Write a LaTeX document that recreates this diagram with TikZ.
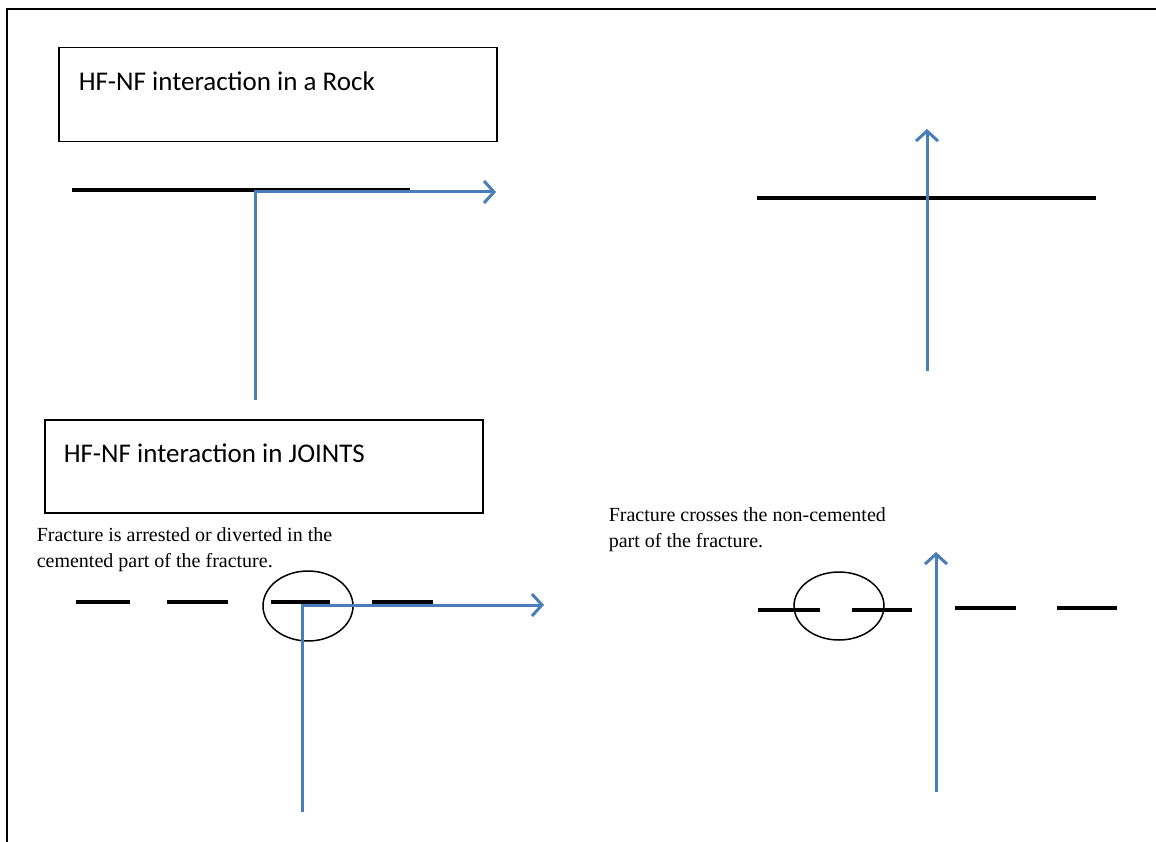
\documentclass[tikz,border=0pt]{standalone}
\usepackage{fontspec}
\setmainfont{Liberation Serif}
\newfontfamily\calibrifont{Carlito}
\usetikzlibrary{arrows.meta, positioning, shapes.geometric}
\definecolor{hfblue}{RGB}{74,126,187}

\begin{document}
\begin{tikzpicture}[x=1pt, y=-1pt, line width=1.5pt,
    titlebox/.style={draw, line width=1.5pt, anchor=north west, minimum width=438pt, minimum height=94pt, inner sep=0pt},
    titletext/.style={anchor=base west, inner sep=0pt, font=\calibrifont\fontsize{27}{32}\selectfont},
    caption/.style={anchor=base west, inner sep=0pt, align=left, font=\fontsize{20}{26}\selectfont},
    nf/.style={line width=4.5pt},
    hf/.style={hfblue, line width=3pt, -{Straight Barb[length=10pt, width=22pt]}},
    joint/.style={ellipse, draw, line width=1.5pt, minimum width=90pt, minimum height=70pt, inner sep=0pt}]

    \useasboundingbox (0, 0) rectangle (1156, 842);
    \draw [line width=2pt] (1156, 9) -- (7, 9) -- (7, 842);

    % rock
    \node [titlebox] (rockbox) at (58, 47) {};
    \node [titletext] (rocktitle) at ([xshift=20pt, yshift=-44pt]rockbox.north west) {HF-NF interaction in a Rock};

    \draw [nf] (72, 190) -- (410, 190);
    \coordinate (rockStart) at (255, 400);
    \coordinate (rockEnd) at (496, 192);
    \draw [hf] (rockStart) |- (rockEnd);

    \draw [nf] (757, 198) -- (1096, 198);
    \coordinate (crossStart) at (927, 371);
    \coordinate (crossEnd) at (927, 129);
    \draw [hf] (crossStart) -- (crossEnd);

    % joints
    \node [titlebox, minimum height=93pt] (jointbox) at (44, 419) {};
    \node [titletext] (jointtitle) at ([xshift=19pt, yshift=-43pt]jointbox.north west) {HF-NF interaction in JOINTS};

    % the base of a two-line node is the base of its last line
    \node [caption] (arrestText) at (36, 567) {Fracture is arrested or diverted in the\\cemented part of the fracture.};
    \node [caption] (crossText) at (608, 547) {Fracture crosses the non-cemented\\part of the fracture.};

    \foreach \a/\b in {76/130, 167/228, 271/330, 372/433}
        \draw [nf] (\a, 602) -- (\b, 602);
    \node [joint] (cementL) at (308, 606) {};
    \coordinate (arrestStart) at (302, 812);
    \coordinate (arrestEnd) at (544, 605);
    \draw [hf] (arrestStart) |- (arrestEnd);

    \foreach \a/\b/\y in {758/820/610, 852/912/610, 955/1016/608, 1057/1117/608}
        \draw [nf] (\a, \y) -- (\b, \y);
    \node [joint, minimum height=68pt] (cementR) at (839, 606) {};
    \coordinate (passStart) at (936, 792);
    \coordinate (passEnd) at (936, 552);
    \draw [hf] (passStart) -- (passEnd);
\end{tikzpicture}
\end{document}
